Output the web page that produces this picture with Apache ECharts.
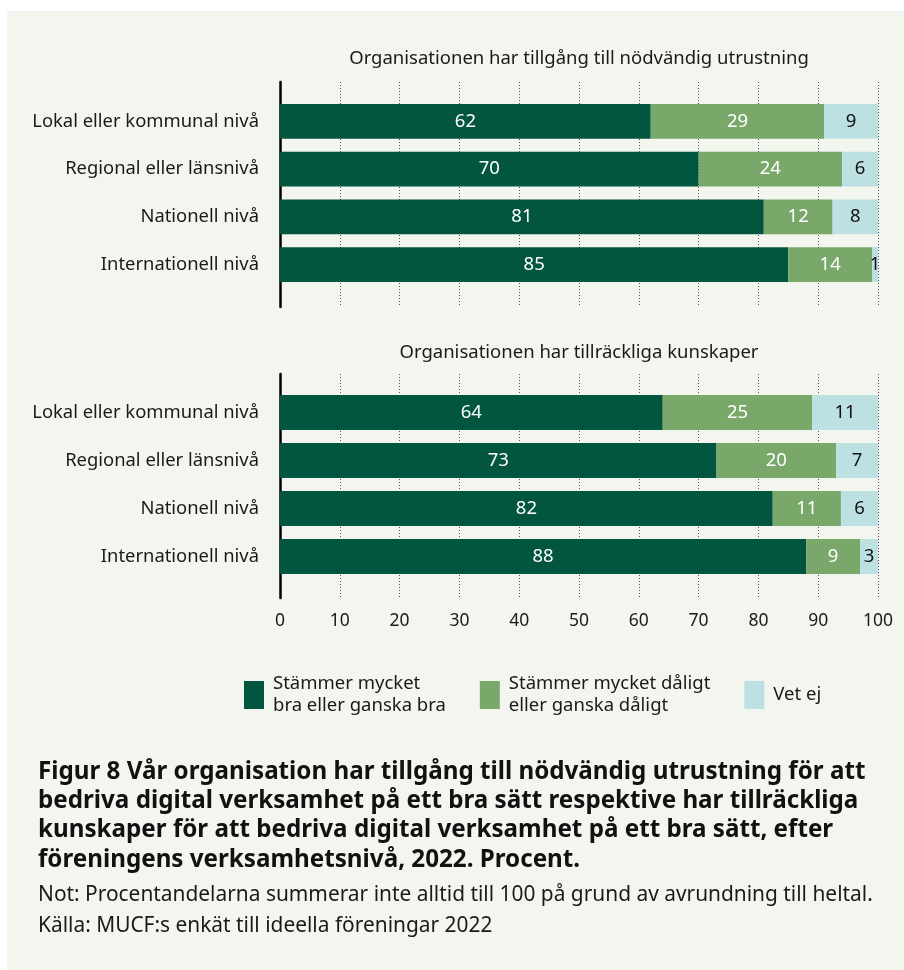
<!DOCTYPE html>
<html>
<head>
<meta charset="utf-8">
<script src="https://cdn.jsdelivr.net/npm/echarts@6/dist/echarts.min.js"></script>
<style>
  html, body { margin: 0; padding: 0; background: #ffffff; }
  #panel { position: absolute; left: 7px; top: 11px; width: 897px; height: 959px; background: #f3f5ef; }
  #chart { position: absolute; left: 0; top: 0; width: 904px; height: 970px; }
</style>
</head>
<body>
<div id="panel"></div>
<div id="chart"></div>
<script>
// nivåer (kategorier)
const categories = ['Lokal eller kommunal nivå', 'Regional eller länsnivå', 'Nationell nivå', 'Internationell nivå']
const seriesNames = ['Stämmer mycket\nbra eller ganska bra', 'Stämmer mycket dåligt\neller ganska dåligt', 'Vet ej']
// Organisationen har tillgång till nödvändig utrustning (stapellängd avläst, etikett avrundad)
const utrustningBra = [62, 70, 80.9, 85]
const utrustningDaligt = [29, 24, 11.5, 14]
const utrustningVetEj = [9, 6, 7.6, 1]
// Organisationen har tillräckliga kunskaper
const kunskaperBra = [64, 73, 82.4, 88]
const kunskaperDaligt = [25, 20, 11.4, 9]
const kunskaperVetEj = [11, 7, 6.2, 3]
// x-axelns tickar
const xTicks = [0, 10, 20, 30, 40, 50, 60, 70, 80, 90, 100]

const colors = ['#02553f', '#79a86a', '#bde0e3']
const labelColors = ['#ffffff', '#ffffff', '#111111']
const font = '"Noto Sans", "Open Sans", sans-serif'

const chart = echarts.init(document.getElementById('chart'), null, { renderer: 'canvas' })

function barSeries (gridIdx, values, i) {
    return {
        name: seriesNames[i],
        type: 'bar',
        stack: 'p' + gridIdx,
        xAxisIndex: gridIdx,
        yAxisIndex: gridIdx,
        barCategoryGap: '27%',
        itemStyle: { color: colors[i] },
        label: {
            show: true,
            position: 'inside',
            color: labelColors[i],
            fontFamily: font,
            fontSize: 18.5,
            formatter: (p) => String(Math.round(p.value))
        },
        emphasis: { disabled: true },
        data: values
    }
}

// ramgrid (axellinje + prickade linjer) och stapelgrid för varje panel
const xFrame = (showLabels) => ({
    type: 'value', min: 0, max: 100, interval: 10,
    axisLine: { show: false }, axisTick: { show: false },
    axisLabel: {
        show: showLabels, color: '#1a1a1a', fontFamily: font, fontSize: 17.5, margin: 14,
        formatter: (v) => xTicks.includes(v) ? String(v) : ''
    },
    splitLine: { show: true, lineStyle: { color: '#555555', type: [1, 2], width: 1 } }
})
const xBars = () => ({
    type: 'value', min: 0, max: 100, show: false
})
const yFrame = () => ({
    type: 'value', min: 0, max: 1,
    axisLine: { show: true, lineStyle: { color: '#000000', width: 2.5 } },
    axisTick: { show: false }, axisLabel: { show: false }, splitLine: { show: false }
})
const yBars = () => ({
    type: 'category', inverse: true, data: categories,
    axisLine: { show: false }, axisTick: { show: false },
    axisLabel: { color: '#1a1a1a', fontFamily: font, fontSize: 18.4, margin: 21 }
})

const option = {
    animation: false,
    title: [
        {
            text: 'Organisationen har tillgång till nödvändig utrustning',
            left: 579, top: 49, textAlign: 'center', padding: 0,
            textStyle: { fontFamily: font, fontSize: 18.5, lineHeight: 20, fontWeight: 'normal', color: '#1a1a1a' }
        },
        {
            text: 'Organisationen har tillräckliga kunskaper',
            left: 579, top: 343, textAlign: 'center', padding: 0,
            textStyle: { fontFamily: font, fontSize: 18.5, lineHeight: 20, fontWeight: 'normal', color: '#1a1a1a' }
        },
        {
            text: 'Figur 8 Vår organisation har tillgång till nödvändig utrustning för att\n' +
                  'bedriva digital verksamhet på ett bra sätt respektive har tillräckliga\n' +
                  'kunskaper för att bedriva digital verksamhet på ett bra sätt, efter\n' +
                  'föreningens verksamhetsnivå, 2022. Procent.',
            left: 38, top: 757, padding: 0,
            textStyle: { fontFamily: font, fontSize: 24.2, fontWeight: 'bold', color: '#111111', lineHeight: 29.4 }
        },
        {
            text: 'Not: Procentandelarna summerar inte alltid till 100 på grund av avrundning till heltal.\n' +
                  'Källa: MUCF:s enkät till ideella föreningar 2022',
            left: 38, top: 879.5, padding: 0,
            textStyle: { fontFamily: font, fontSize: 20.9, fontWeight: 'normal', color: '#1a1a1a', lineHeight: 31 }
        }
    ],
    legend: {
        left: 244, top: 673, padding: 0,
        itemWidth: 20, itemHeight: 28, itemGap: 34,
        icon: 'rect',
        selectedMode: false,
        data: seriesNames,
        textStyle: { fontFamily: font, fontSize: 18.5, color: '#1a1a1a', lineHeight: 22, padding: [0, 0, 0, 4] }
    },
    grid: [
        { left: 280, right: 26, top: 82, height: 225 },
        { left: 280, right: 26, top: 97.5, height: 191 },
        { left: 280, right: 26, top: 374, height: 224 },
        { left: 280, right: 26, top: 388.5, height: 192 }
    ],
    xAxis: [
        Object.assign(xFrame(false), { gridIndex: 0 }),
        Object.assign(xBars(), { gridIndex: 1 }),
        Object.assign(xFrame(true), { gridIndex: 2 }),
        Object.assign(xBars(), { gridIndex: 3 })
    ],
    yAxis: [
        Object.assign(yFrame(), { gridIndex: 0 }),
        Object.assign(yBars(), { gridIndex: 1 }),
        Object.assign(yFrame(), { gridIndex: 2 }),
        Object.assign(yBars(), { gridIndex: 3 })
    ],
    series: [
        barSeries(1, utrustningBra, 0),
        barSeries(1, utrustningDaligt, 1),
        barSeries(1, utrustningVetEj, 2),
        barSeries(3, kunskaperBra, 0),
        barSeries(3, kunskaperDaligt, 1),
        barSeries(3, kunskaperVetEj, 2)
    ]
}
chart.setOption(option)
</script>
</body>
</html>
